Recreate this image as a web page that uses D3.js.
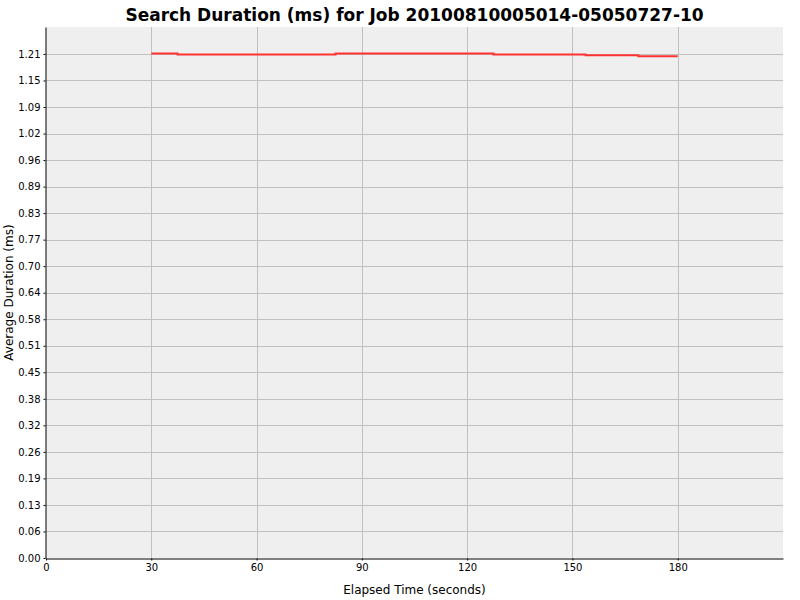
<!DOCTYPE html>
<html>
<head>
<meta charset="utf-8">
<script src="https://cdn.jsdelivr.net/npm/d3@7"></script>
<style>
  body { margin: 0; background: #fff; }
  text { font-family: "DejaVu Sans", sans-serif; }
</style>
</head>
<body>
<div id="container"></div>
<script>
/* CONSTANTS AND GLOBALS */
const width = 800;
const height = 600;
const margin = { top: 27, right: 17, bottom: 42, left: 46 };

const titleText = "Search Duration (ms) for Job 20100810005014-05050727-10";
const xLabel = "Elapsed Time (seconds)";
const yLabel = "Average Duration (ms)";

/* DATA */
// step starts (seconds) and the average duration from that point on
const elapsed = [30, 37.5, 82.5, 127.5, 153.75, 168.75, 180];
const avgDuration = [1.2153, 1.2129, 1.2153, 1.2129, 1.2110, 1.2088, 1.2088];

const xTicks = [0, 30, 60, 90, 120, 150, 180];
const yTickStep = 0.0639;
const yTickCount = 20;
const xMax = 210;
const yMax = 1.279;

const points = elapsed.map((t, i) => ({ t: t, v: avgDuration[i] }));
const yTicks = d3.range(yTickCount).map(i => i * yTickStep);

/* SCALES */
const xScale = d3.scaleLinear()
  .domain([0, xMax])
  .range([margin.left, width - margin.right]);

const yScale = d3.scaleLinear()
  .domain([0, yMax])
  .range([height - margin.bottom, margin.top]);

/* AXIS */
const xAxis = d3.axisBottom(xScale)
  .tickValues(xTicks)
  .tickFormat(d3.format("d"))
  .tickSizeInner(2)
  .tickSizeOuter(0)
  .tickPadding(3);

const yAxis = d3.axisLeft(yScale)
  .tickValues(yTicks)
  .tickFormat(d3.format(".2f"))
  .tickSizeInner(2)
  .tickSizeOuter(0)
  .tickPadding(3);

/* HTML ELEMENTS */
const svg = d3.select("#container")
  .append("svg")
  .attr("width", width)
  .attr("height", height);

// plot background
svg.append("rect")
  .attr("x", xScale(0))
  .attr("y", yScale(yMax))
  .attr("width", xScale(xMax) - xScale(0))
  .attr("height", yScale(0) - yScale(yMax))
  .attr("fill", "#efefef");

// grid
svg.append("g")
  .selectAll("line")
  .data(xTicks.filter(d => d > 0))
  .join("line")
  .attr("x1", d => Math.round(xScale(d)) + 0.5)
  .attr("x2", d => Math.round(xScale(d)) + 0.5)
  .attr("y1", yScale(yMax))
  .attr("y2", yScale(0))
  .attr("stroke", "#c0c0c0");

svg.append("g")
  .selectAll("line")
  .data(yTicks.filter(d => d > 0))
  .join("line")
  .attr("x1", xScale(0))
  .attr("x2", xScale(xMax))
  .attr("y1", d => Math.round(yScale(d)) + 0.5)
  .attr("y2", d => Math.round(yScale(d)) + 0.5)
  .attr("stroke", "#c0c0c0");

// step line
const line = d3.line()
  .x(d => xScale(d.t))
  .y(d => yScale(d.v))
  .curve(d3.curveStepAfter);

svg.append("path")
  .datum(points)
  .attr("d", line)
  .attr("fill", "none")
  .attr("stroke", "#ff3333")
  .attr("stroke-width", 2);

// axes
svg.append("g")
  .attr("transform", `translate(0, ${yScale(0) + 0.5})`)
  .style("font-size", "10px")
  .call(xAxis)
  .call(g => g.select(".domain").attr("stroke", "#000"))
  .call(g => g.selectAll("text").attr("fill", "#000"));

svg.append("g")
  .attr("transform", `translate(${xScale(0) - 0.5}, 0)`)
  .style("font-size", "10px")
  .call(yAxis)
  .call(g => g.select(".domain").attr("stroke", "#000"))
  .call(g => g.selectAll("text").attr("fill", "#000"));

// title and labels
const plotMid = (xScale(0) + xScale(xMax)) / 2;

svg.append("text")
  .attr("x", plotMid)
  .attr("y", 21)
  .attr("text-anchor", "middle")
  .style("font-size", "17px")
  .style("font-weight", "bold")
  .text(titleText);

svg.append("text")
  .attr("x", plotMid)
  .attr("y", 594)
  .attr("text-anchor", "middle")
  .style("font-size", "12px")
  .text(xLabel);

svg.append("text")
  .attr("transform", `translate(13, ${(yScale(0) + yScale(yMax)) / 2}) rotate(-90)`)
  .attr("text-anchor", "middle")
  .style("font-size", "12px")
  .text(yLabel);
</script>
</body>
</html>
